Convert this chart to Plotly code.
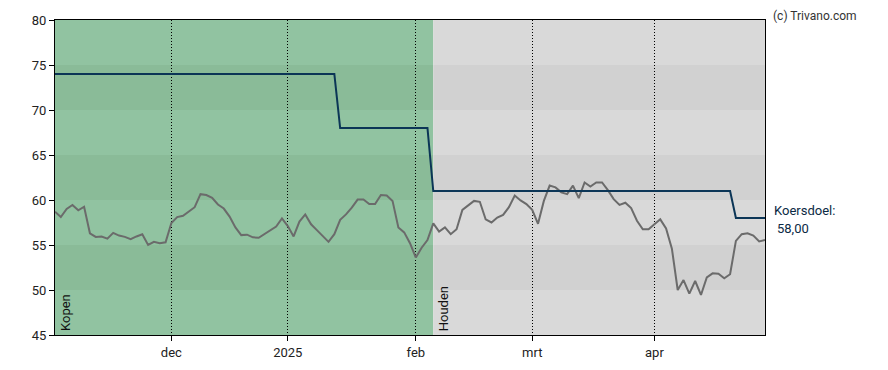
import pandas as pd
import plotly.graph_objects as go

# --- data ---------------------------------------------------------------
holidays = ["2024-12-25", "2024-12-26", "2025-01-01", "2025-04-18", "2025-04-21"]
all_days = pd.bdate_range("2024-11-04", "2025-04-30")
dates = [d.strftime("%Y-%m-%d") for d in all_days if d.strftime("%Y-%m-%d") not in holidays]

price = [
    58.7, 58.1, 59.0, 59.45, 58.85, 59.25, 56.3, 55.9, 55.95, 55.7,
    56.35, 56.05, 55.9, 55.65, 55.95, 56.2, 55.0, 55.35, 55.2, 55.3,
    57.45, 58.1, 58.25, 58.7, 59.2, 60.65, 60.55, 60.25, 59.5, 59.05,
    58.15, 56.95, 56.1, 56.15, 55.85, 55.8, 56.2, 56.65, 57.05, 57.95,
    57.1, 55.95, 57.6, 58.4, 57.3, 56.65, 56.05, 55.35, 56.2, 57.8,
    58.4, 59.15, 60.05, 60.05, 59.55, 59.55, 60.55, 60.5, 59.9, 56.95,
    56.4, 55.2, 53.6, 54.7, 55.55, 57.4, 56.5, 56.95, 56.2, 56.75,
    58.9, 59.35, 59.9, 59.8, 57.85, 57.5, 58.05, 58.35, 59.2, 60.5,
    59.95, 59.55, 58.9, 57.35, 59.9, 61.6, 61.4, 60.85, 60.65, 61.6,
    60.2, 61.95, 61.5, 61.95, 61.95, 61.1, 60.1, 59.45, 59.7, 59.1,
    57.7, 56.75, 56.75, 57.3, 57.85, 56.85, 54.6, 50.0, 51.1, 49.6,
    51.0, 49.45, 51.4, 51.85, 51.8, 51.3, 51.75, 55.45, 56.2, 56.3,
    56.05, 55.4, 55.55,
]
target = [74.0] * 49 + [68.0] * 16 + [61.0] * 52 + [58.0] * 6
assert len(dates) == len(price) == len(target) == 123

tick_dates = ["2024-12-02", "2025-01-02", "2025-02-03", "2025-03-03", "2025-04-01"]
tick_labels = ["dec", "2025", "feb", "mrt", "apr"]
y_ticks = [45, 50, 55, 60, 65, 70, 75, 80]

advice_labels = ["Kopen", "Houden"]
advice_start = ["2024-11-04", "2025-02-06"]
target_label = "Koersdoel:"
target_text = "58,00"

# --- figure -------------------------------------------------------------
fig = go.Figure()

n = len(dates)
i_switch = dates.index(advice_start[1])
regions = [
    (0, i_switch, "rgb(145,195,161)", "rgb(138,187,152)"),
    (i_switch, n - 1, "rgb(217,217,217)", "rgb(209,209,209)"),
]
shapes = []
for x0, x1, light, dark in regions:
    for k in range(len(y_ticks) - 1):
        lo, hi = y_ticks[k], y_ticks[k + 1]
        col = light if k % 2 == 0 else dark
        shapes.append(dict(type="rect", xref="x", yref="y", x0=x0, x1=x1, y0=lo, y1=hi,
                           fillcolor=col, line=dict(width=0), layer="below"))

fig.add_trace(go.Scatter(x=dates, y=price, mode="lines",
                         line=dict(color="#6b6b6b", width=2), hoverinfo="skip"))
fig.add_trace(go.Scatter(x=dates, y=target, mode="lines",
                         line=dict(color="#0b3556", width=2), hoverinfo="skip"))

font_family = "Roboto, Arial, sans-serif"
annotations = [
    dict(text="(c) Trivano.com", xref="paper", yref="paper", x=1.0, y=1.0,
         xanchor="left", yanchor="bottom", xshift=6, yshift=-5, showarrow=False,
         font=dict(size=12, color="#333333", family=font_family)),
    dict(text=target_label, xref="paper", yref="y", x=1.0, y=58.0,
         xanchor="left", yanchor="middle", xshift=7, yshift=8, showarrow=False,
         font=dict(size=13, color="#0b2a44", family=font_family)),
    dict(text=target_text, xref="paper", yref="y", x=1.0, y=58.0,
         xanchor="left", yanchor="middle", xshift=10, yshift=-10, showarrow=False,
         font=dict(size=13, color="#0b2a44", family=font_family)),
]
for lab, start in zip(advice_labels, advice_start):
    annotations.append(dict(text=lab, xref="x", yref="y", x=dates.index(start), y=45,
                            xanchor="left", yanchor="bottom", xshift=1, yshift=2,
                            textangle=-90, showarrow=False,
                            font=dict(size=13, color="#111111", family=font_family)))

# page body has an 8px default margin, so the figure is sized/offset for it
fig.update_layout(
    width=880, height=362,
    margin=dict(l=47, r=123, t=12, b=35, autoexpand=False),
    paper_bgcolor="white", plot_bgcolor="white",
    showlegend=False,
    shapes=shapes,
    annotations=annotations,
    font=dict(family=font_family, size=13, color="#222222"),
    xaxis=dict(type="category", range=[0, n - 1], tickmode="array",
               tickvals=tick_dates, ticktext=tick_labels, automargin=False,
               showgrid=True, gridcolor="black", griddash="1px,2px", gridwidth=1,
               showline=True, linecolor="black", linewidth=1, mirror=True,
               ticks="outside", ticklen=5, tickcolor="black",
               tickfont=dict(size=13, color="#222222"), zeroline=False),
    yaxis=dict(range=[45, 80], tickmode="array", tickvals=y_ticks, automargin=False,
               showgrid=False, zeroline=False,
               showline=True, linecolor="black", linewidth=1, mirror=True,
               ticks="outside", ticklen=5, tickcolor="black",
               tickfont=dict(size=13, color="#222222")),
)

fig.write_html("out.html")
